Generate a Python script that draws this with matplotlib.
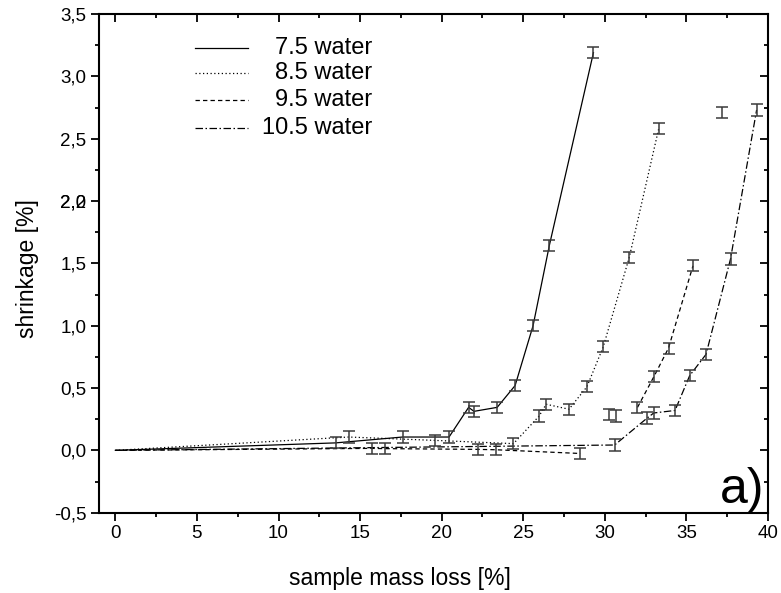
import matplotlib
matplotlib.use("Agg")
import matplotlib.pyplot as plt
import matplotlib.transforms as mtransforms
from matplotlib.ticker import MultipleLocator, FuncFormatter

plt.rcParams['font.family'] = ['Liberation Sans', 'DejaVu Sans']

# values (sample mass loss [%], shrinkage [%])
x75 = [0, 13.5, 17.6, 20.45, 21.65, 21.98, 23.4, 24.5, 25.6, 26.6, 29.3]
y75 = [0, 0.06, 0.107, 0.107, 0.345, 0.313, 0.345, 0.52, 1.0, 1.645, 3.19]

x85 = [0, 14.3, 19.6, 24.4, 25.97, 26.4, 27.8, 28.9, 29.9, 31.5, 33.3]
y85 = [0, 0.107, 0.08, 0.054, 0.275, 0.37, 0.33, 0.51, 0.83, 1.55, 2.58]

# 9.5 water: line drawn in two pieces, some points only have error bars
x95a = [0, 15.7, 16.5, 22.2, 23.3, 28.5]
y95a = [0, 0.016, 0.014, 0.008, 0.005, -0.025]
x95b = [32.0, 33.0, 33.9, 35.4]
y95b = [0.345, 0.59, 0.82, 1.48]
x95c = [30.27, 30.67, 37.2]
y95c = [0.29, 0.275, 2.71]

x105 = [0, 30.6, 32.6, 33.0, 34.3, 35.2, 36.2, 37.7, 39.3]
y105 = [0, 0.043, 0.26, 0.30, 0.32, 0.6, 0.77, 1.535, 2.73]

err = 0.045
labels = ['7.5 water', '8.5 water', '9.5 water', '10.5 water']

fig = plt.figure(figsize=(7.81, 5.93), dpi=100)
ax = fig.add_axes([0.1268, 0.1354, 0.8566, 0.8410])

lw = 0.9
ls75 = '-'
ls85 = (0, (1, 2))
ls95 = (0, (3.5, 2.5))
ls105 = (0, (6, 2, 1.2, 2))
ebkw = dict(fmt='none', ecolor='#3a3a3a', elinewidth=1.1, capsize=4, capthick=1.1, zorder=3)

ax.plot(x75, y75, color='black', lw=lw, linestyle=ls75)
ax.errorbar(x75[1:], y75[1:], yerr=err, **ebkw)

ax.plot(x85, y85, color='black', lw=lw, linestyle=ls85)
ax.errorbar(x85[1:], y85[1:], yerr=err, **ebkw)

ax.plot(x95a, y95a, color='black', lw=lw, linestyle=ls95)
ax.plot(x95b, y95b, color='black', lw=lw, linestyle=ls95)
ax.errorbar(x95a[1:], y95a[1:], yerr=err, **ebkw)
ax.errorbar(x95b, y95b, yerr=err, **ebkw)
ax.errorbar(x95c, y95c, yerr=err, **ebkw)

ax.plot(x105, y105, color='black', lw=lw, linestyle=ls105)
ax.errorbar(x105[1:], y105[1:], yerr=err, **ebkw)

ax.set_xlim(-1, 40)
ax.set_ylim(-0.5, 3.5)
ax.xaxis.set_major_locator(MultipleLocator(5))
ax.xaxis.set_minor_locator(MultipleLocator(2.5))
ax.yaxis.set_major_locator(MultipleLocator(0.5))
ax.yaxis.set_minor_locator(MultipleLocator(0.25))
ax.yaxis.set_major_formatter(FuncFormatter(lambda v, p: f'{v:.1f}'.replace('.', ',')))

for s in ax.spines.values():
    s.set_linewidth(1.5)
ax.tick_params(which='both', top=True, right=True, width=1.3, labelsize=13.5)
ax.tick_params(which='major', length=6, pad=3)
ax.tick_params(which='minor', length=3)
ax.tick_params(axis='x', which='both', direction='out')
ax.tick_params(axis='y', which='both', direction='out')
# top and right ticks point inward
for t in ax.xaxis.get_major_ticks() + ax.xaxis.get_minor_ticks():
    t.tick2line.set_marker(3)
for t in ax.yaxis.get_major_ticks() + ax.yaxis.get_minor_ticks():
    t.tick2line.set_marker(0)

# the overlapped "2,0" label of the original
off = mtransforms.ScaledTranslation(-9 / 72, 0, fig.dpi_scale_trans)
ax.text(0, 2.0, '2,2', transform=ax.get_yaxis_transform() + off,
        ha='right', va='center_baseline', fontsize=13.5)

ax.set_xlabel('sample mass loss [%]', fontsize=16.5)
ax.set_ylabel('shrinkage [%]', fontsize=16.5)
ax.xaxis.set_label_coords(0.45, -0.108)
ax.yaxis.set_label_coords(-0.09, 0.49)

# legend drawn by hand, text right aligned as in the original
leg_y = [0.932, 0.882, 0.828, 0.772]
leg_ls = [ls75, ls85, ls95, ls105]
for yy, ls, lab in zip(leg_y, leg_ls, labels):
    ax.plot([0.1435, 0.2227], [yy, yy], transform=ax.transAxes, color='black', lw=lw, linestyle=ls)
    ax.text(0.408, yy, lab, transform=ax.transAxes, ha='right', va='center', fontsize=17)

ax.text(0.995, 0.0, 'a)', transform=ax.transAxes, ha='right', va='bottom', fontsize=36)

fig.savefig('out.png', dpi=100)
